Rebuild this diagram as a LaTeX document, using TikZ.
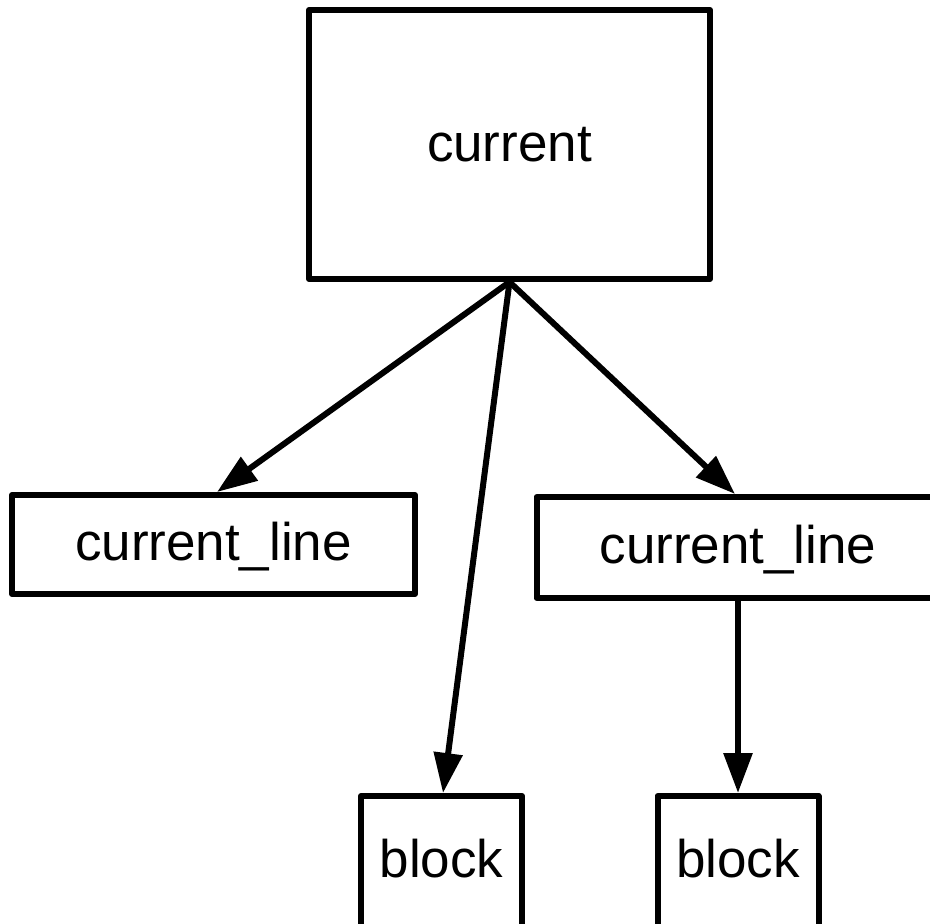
\documentclass[tikz,border=0pt]{standalone}
\usepackage{fontspec}
\setmainfont{Liberation Sans}
\usetikzlibrary{arrows.meta}
\begin{document}
\begin{tikzpicture}[x=1pt,y=-1pt,
  box/.style={draw, line width=6pt, line join=round, inner sep=0pt,
    font=\fontsize{53pt}{60pt}\selectfont},
  link/.style={line width=6pt, -{Triangle[length=40pt,width=28pt]}}]
  \useasboundingbox (0,0) rectangle (930,924);
  \clip (0,0) rectangle (930,924);
  \node[box, minimum width=401pt, minimum height=269pt] (cur) at (509.5,144.5) {current};
  \node[box, minimum width=403pt, minimum height=99pt, text height=38pt, text depth=7pt] (lineL) at (213.5,544.5) {current\_line};
  \node[box, minimum width=403pt, minimum height=101pt, text height=38pt, text depth=7pt] (lineR) at (738,547.5) {current\_line};
  \node[box, minimum width=161pt, minimum height=135pt, text height=38pt, text depth=10pt] (blkL) at (441.5,863.5) {block};
  \node[box, minimum width=161pt, minimum height=135pt, text height=38pt, text depth=10pt] (blkR) at (738,863.5) {block};
  \draw[link] (cur.south) -- ([xshift=3.5pt]lineL.north);
  \draw[link] (cur.south) -- ([xshift=1.5pt]blkL.north);
  \draw[link] (cur.south) -- ([xshift=-3pt]lineR.north);
  \draw[link] (lineR.south) -- (blkR.north);
\end{tikzpicture}
\end{document}
